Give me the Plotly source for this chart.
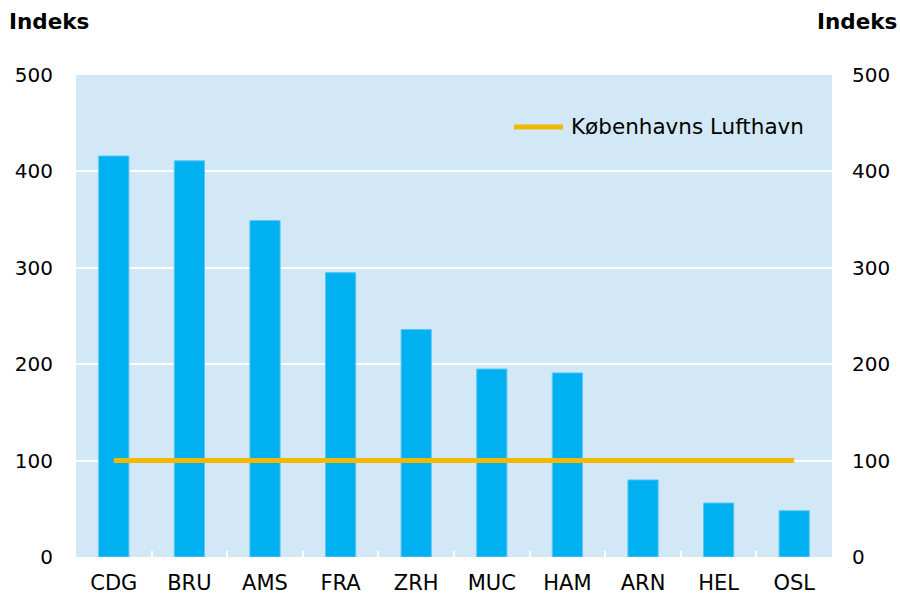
import plotly.graph_objects as go

categories = ["CDG", "BRU", "AMS", "FRA", "ZRH", "MUC", "HAM", "ARN", "HEL", "OSL"]
index_values = [416, 411, 349, 295, 236, 195, 191, 80, 56, 48]
cph_values = [100] * len(categories)
y_ticks = [0, 100, 200, 300, 400, 500]
legend_label = "Københavns Lufthavn"

FONT = "DejaVu Sans"
FS = 20
YELLOW = "#f5b800"

W, H = 900, 595
L, R, T, B = 76, 68, 75, 38
pw, ph = W - L - R, H - T - B


def px_x(x):
    return (x - L) / pw


def px_y(y):
    return (H - B - y) / ph


fig = go.Figure()
fig.add_trace(go.Bar(
    x=categories, y=index_values, width=0.4,
    marker=dict(color="#00b0f0", line=dict(color="#5cc8f2", width=1)),
    showlegend=False, hoverinfo="x+y",
))
fig.add_trace(go.Scatter(
    x=categories, y=cph_values, mode="lines", name=legend_label,
    line=dict(color=YELLOW, width=5), showlegend=False,
))
fig.add_trace(go.Scatter(
    x=categories, y=index_values, yaxis="y2", mode="markers",
    marker=dict(opacity=0), showlegend=False, hoverinfo="skip",
))

fig.update_layout(
    width=W, height=H,
    margin=dict(l=L, r=R, t=T, b=B),
    paper_bgcolor="white", plot_bgcolor="#d3e8f6",
    font=dict(family=FONT, size=FS, color="#000000"),
    xaxis=dict(
        type="category", range=[-0.5, len(categories) - 0.5],
        showgrid=False, ticks="inside", tickson="boundaries",
        ticklen=6, tickcolor="white", tickwidth=2, showline=False,
        tickfont=dict(size=21, family=FONT), automargin=False,
        ticklabelstandoff=11,
    ),
    yaxis=dict(
        range=[0, 500], tickvals=y_ticks, showgrid=True, gridcolor="white",
        gridwidth=2, zeroline=False, ticks="", tickfont=dict(size=FS, family=FONT),
        automargin=False, ticklabelstandoff=22,
    ),
    yaxis2=dict(
        range=[0, 500], tickvals=y_ticks, overlaying="y", side="right",
        showgrid=False, zeroline=False, ticks="", tickfont=dict(size=FS, family=FONT),
        automargin=False, ticklabelstandoff=19,
    ),
    showlegend=False,
    shapes=[
        dict(type="line", xref="paper", yref="paper",
             x0=px_x(514), x1=px_x(563), y0=px_y(127), y1=px_y(127),
             line=dict(color=YELLOW, width=5)),
    ],
    annotations=[
        dict(text=legend_label, x=px_x(569), xref="paper", y=px_y(127), yref="paper",
             xanchor="left", yanchor="middle", showarrow=False,
             font=dict(size=21.5, family=FONT)),
        dict(text="<b>Indeks</b>", x=px_x(7), xref="paper", y=px_y(22), yref="paper",
             xanchor="left", yanchor="middle", showarrow=False,
             font=dict(size=21.5, family=FONT)),
        dict(text="<b>Indeks</b>", x=px_x(899), xref="paper", y=px_y(22), yref="paper",
             xanchor="right", yanchor="middle", showarrow=False,
             font=dict(size=21.5, family=FONT)),
    ],
)

fig.write_html(
    "out.html",
    config={"displayModeBar": False},
    post_script="document.body.style.margin='0';document.body.style.overflow='hidden';",
)
